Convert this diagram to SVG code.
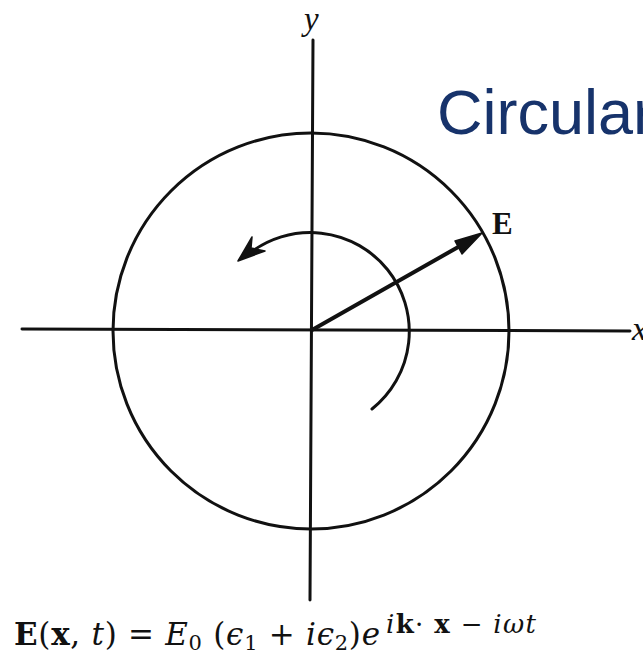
<svg xmlns="http://www.w3.org/2000/svg" width="643" height="655" viewBox="0 0 643 655">
<style>
.ln{stroke:#111;stroke-width:3;fill:none;stroke-linecap:round}
.serif{font-family:"Liberation Serif","DejaVu Serif",serif;fill:#111}
.eq{font-family:"DejaVu Serif","Liberation Serif",serif;fill:#111}
.it{font-style:italic}
.bd{font-weight:bold}
.title{font-family:"Liberation Sans",Arial,sans-serif;fill:#17336b}
</style>
<rect width="643" height="655" fill="#fff"/>
<g id="title">
<text class="title" x="437" y="134" font-size="63">Circular</text>
</g>
<g id="axes">
<line class="ln" x1="22" y1="329" x2="630" y2="331"/>
<line class="ln" x1="313" y1="40" x2="310" y2="600"/>
<text class="serif it" x="304" y="30" font-size="33">y</text>
<text class="serif it" x="632" y="340" font-size="34">x</text>
</g>
<g id="circle">
<circle class="ln" cx="311" cy="331" r="198"/>
</g>
<g id="connectors">
<g id="rotation">
<path class="ln" d="M372,409 A99,99 0 1 0 248.4,254.2"/>
<path d="M238,261 L252,237 L251,248 L265,251 Z" fill="#111" stroke="#111" stroke-width="1.5" stroke-linejoin="round"/>
</g>
<g id="vectorE">
<line x1="312" y1="330" x2="460" y2="246" stroke="#111" stroke-width="4" stroke-linecap="round"/>
<path d="M482,233 L462,254 L455,241 Z" fill="#111" stroke="#111" stroke-width="1.5" stroke-linejoin="round"/>
</g>
</g>
<g id="labelE">
<text class="serif bd" x="492" y="234" font-size="31">E</text>
</g>
<g id="equation">
<text class="eq" font-size="31" x="14" y="645" textLength="366" lengthAdjust="spacing"><tspan class="bd">E</tspan>(<tspan class="bd">x</tspan>, <tspan class="it">t</tspan>) = <tspan class="it">E</tspan><tspan font-size="21" dy="5">0</tspan><tspan dy="-5"> (</tspan><tspan class="it">ϵ</tspan><tspan font-size="21" dy="5">1</tspan><tspan dy="-5"> + </tspan><tspan class="it">iϵ</tspan><tspan font-size="21" dy="5">2</tspan><tspan dy="-5">)</tspan><tspan class="it">e</tspan></text>
<text class="eq" font-size="26" x="386" y="633" textLength="150" lengthAdjust="spacing"><tspan class="it">i</tspan><tspan class="bd">k</tspan>· <tspan class="bd">x</tspan> − <tspan class="it">iωt</tspan></text>
</g>
</svg>
